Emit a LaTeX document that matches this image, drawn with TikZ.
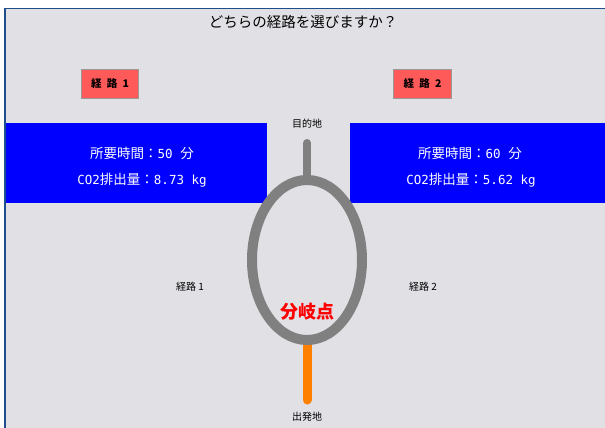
\documentclass[tikz,border=0pt]{standalone}
\usepackage{fontspec}
\setmainfont{Noto Sans CJK JP}
\newfontfamily\mono{DejaVu Sans Mono}
\definecolor{bgc}{HTML}{E1E0E5}
\definecolor{framec}{HTML}{1F4E8C}
\definecolor{btnred}{HTML}{FF5A5A}
\definecolor{roadgray}{HTML}{808080}
\definecolor{roadorange}{HTML}{FF8000}
\newcommand{\mn}[1]{{\mono\fontsize{12.5}{15}\selectfont #1}}
\tikzset{
  btn/.style={draw=gray!80, fill=btnred, line width=1pt, minimum width=57pt, minimum height=29pt, inner sep=0pt, font=\fontsize{10.5}{12}\selectfont\bfseries},
  infotext/.style={text=white, font=\fontsize{13.5}{15}\selectfont, inner sep=0pt},
  lbl/.style={font=\fontsize{10}{12}\selectfont, text=black},
}
\begin{document}
\begin{tikzpicture}[x=1pt,y=-1pt]
\useasboundingbox (0,0) rectangle (605,428);
\fill[white] (0,0) rectangle (605,428);
\fill[bgc] (5,8) rectangle (605,428);
\draw[framec, line width=1.6pt] (5,428) -- (5,8.5) -- (605,8.5);
% title
\node[font=\fontsize{14.5}{16}\selectfont] (title) at (303,22) {どちらの経路を選びますか？};
% buttons
\fill[black!70] (82,70) rectangle (139,99);
\node[btn, anchor=north west] (b1) at (81,69) {経\,\,\,路\,\,\,1};
\fill[black!70] (394,70) rectangle (452,99);
\node[btn, anchor=north west, minimum width=58pt] (b2) at (393,69) {経\,\,\,路\,\,\,2};
% info boxes
\fill[blue] (6,123) rectangle (267,203);
\fill[blue] (350,123) rectangle (605,203);
\node[infotext] (t1a) at (142,153) {所要時間：\mn{50\ }分};
\node[infotext] (t1b) at (142,180) {\mn{CO2}排出量：\mn{8.73 kg}};
\node[infotext] (t2a) at (470,153) {所要時間：\mn{60\ }分};
\node[infotext] (t2b) at (471,180) {\mn{CO2}排出量：\mn{5.62 kg}};
% roads
\coordinate (top) at (307,143);
\coordinate (etop) at (307,180);
\coordinate (ebot) at (307,340);
\coordinate (start) at (307,400);
\draw[roadgray, line width=8pt, line cap=round] (top) -- (etop);
\draw[roadorange, line width=9pt, line cap=round] (start) -- (ebot);
\draw[roadgray, line width=10pt] (307,260) ellipse [x radius=55, y radius=80];
% labels
\node[lbl] (dest) at (307,124) {目的地};
\node[lbl] (orig) at (307,417) {出発地};
\node[lbl] (r1) at (190,287) {経路\ 1};
\node[lbl] (r2) at (423,287) {経路\ 2};
\node[text=red, font=\fontsize{18}{20}\selectfont\bfseries] (branch) at (307,312) {分岐点};
\end{tikzpicture}
\end{document}
